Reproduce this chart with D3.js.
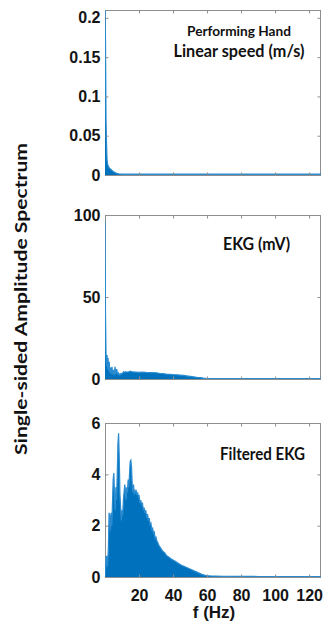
<!DOCTYPE html>
<html>
<head>
<meta charset="utf-8">
<script src="https://cdn.jsdelivr.net/npm/d3@7"></script>
<style>
  body { margin: 0; background: #fff; }
  svg { display: block; }
</style>
</head>
<body>
<svg id="chart" width="323" height="628"></svg>
<script>
// frequency (Hz) / amplitude samples
const handFreq = [0, 0.3, 0.6, 0.9, 1.2, 1.5, 2, 2.5, 3, 4, 5, 6, 7, 8, 10, 20, 40, 60, 80, 100, 127];
const handAmp = [0.21, 0.17, 0.07, 0.04, 0.02, 0.014, 0.011, 0.009, 0.008, 0.006, 0.004, 0.003, 0.002, 0.0015, 0.001, 0.001, 0.001, 0.001, 0.001, 0.001, 0.001];

const ekgFreq = [0, 0.3, 0.6, 0.9, 1.2, 1.5, 1.8, 2.1, 2.5, 2.9, 3.3, 3.7, 4.1, 4.5, 5.0, 5.4, 5.9, 6.4, 6.9, 7.4, 7.9, 8.5, 9, 9.5, 10, 10.5, 11, 11.5, 12, 13, 14, 15, 16, 18, 20, 22, 24, 26, 28, 30, 32, 34, 36, 38, 40, 42, 44, 46, 48, 50, 52, 54, 56, 58, 60, 70, 90, 110, 127];
const ekgAmp = [97, 40, 15, 8, 14.6, 6, 12.8, 5, 10.5, 4, 7, 3, 7.5, 3, 5.5, 2.5, 7.5, 3, 6.1, 3, 3.7, 2.4, 3.2, 2.6, 3.5, 3.8, 4.5, 4.0, 4.4, 4.2, 4.4, 4.8, 4.3, 4.2, 4.1, 4.2, 4.0, 3.9, 3.9, 3.8, 3.5, 3.3, 3.0, 2.9, 2.7, 2.6, 2.4, 2.2, 1.9, 1.6, 1.3, 1.0, 0.8, 0.5, 0.3, 0.3, 0.3, 0.3, 0.3];

const filtFreq = [0, 0.3, 0.6, 1.0, 1.3, 1.6, 2.0, 2.4, 2.8, 3.2, 3.6, 4.0, 4.4, 4.8, 5.2, 5.6, 6.0, 6.4, 6.8, 7.2, 7.6, 8.0, 8.4, 8.8, 9.2, 9.6, 10.0, 10.4, 10.8, 11.2, 11.6, 12.0, 12.4, 12.8, 13.2, 13.6, 14.0, 14.4, 14.8, 15.2, 15.6, 16.0, 16.4, 16.8, 17.2, 17.6, 18.0, 18.4, 18.8, 19.2, 19.6, 20.0, 20.5, 21.0, 21.5, 22.0, 22.5, 23, 23.5, 24, 24.5, 25, 25.5, 26, 26.5, 27, 27.5, 28, 28.5, 29, 29.5, 30, 30.5, 31, 31.5, 32, 33, 34, 35, 36, 37, 38, 39, 40, 41, 42, 43, 44, 45, 46, 47, 48, 49, 50, 51, 52, 53, 54, 55, 56, 57, 58, 59, 60, 62, 65, 70, 80, 90, 100, 110, 120, 127];
const filtAmp = [0.0, 0.3, 0.8, 0.8, 0.4, 0.5, 1.2, 2.5, 2.4, 1.8, 2.5, 2.0, 2.9, 3.8, 4.05, 3.2, 2.6, 3.5, 3.0, 4.0, 5.2, 5.6, 4.6, 3.2, 2.7, 2.2, 2.6, 2.4, 3.0, 3.3, 3.6, 3.4, 3.0, 3.5, 3.3, 3.8, 3.5, 4.0, 4.5, 4.55, 4.3, 3.6, 3.3, 3.6, 3.2, 3.4, 3.3, 3.35, 3.2, 3.3, 3.1, 3.2, 2.9, 3.0, 2.8, 2.9, 2.6, 2.7, 2.5, 2.6, 2.3, 2.45, 2.2, 2.3, 2.05, 2.1, 1.85, 1.9, 1.7, 1.75, 1.5, 1.55, 1.4, 1.35, 1.25, 1.2, 1.1, 1.0, 0.95, 0.85, 0.8, 0.75, 0.7, 0.66, 0.62, 0.58, 0.54, 0.5, 0.46, 0.43, 0.4, 0.37, 0.34, 0.31, 0.28, 0.25, 0.22, 0.19, 0.16, 0.13, 0.1, 0.08, 0.06, 0.05, 0.04, 0.035, 0.03, 0.025, 0.02, 0.02, 0.02, 0.02, 0.02];

const xTicks = [20, 40, 60, 80, 100, 120];
const handTicks = [0, 0.05, 0.1, 0.15, 0.2];
const ekgTicks = [0, 50, 100];
const filtTicks = [0, 2, 4, 6];

const panels = [
  { freq: handFreq, amp: handAmp, yMax: 0.21, ticks: handTicks, top: 10, bottom: 175, xLabels: false,
    titles: [
      { text: 'Performing Hand', x: 239, y: 36, size: 13.5, len: 104 },
      { text: 'Linear speed (m/s)', x: 239, y: 57, size: 16.5, len: 131 }
    ] },
  { freq: ekgFreq, amp: ekgAmp, yMax: 100, ticks: ekgTicks, top: 215, bottom: 379, xLabels: false,
    titles: [{ text: 'EKG (mV)', x: 256.5, y: 250, size: 16.5, len: 67 }] },
  { freq: filtFreq, amp: filtAmp, yMax: 6, ticks: filtTicks, top: 423, bottom: 577, xLabels: true,
    titles: [{ text: 'Filtered EKG', x: 262.5, y: 460, size: 16.5, len: 85 }] }
];

const left = 105;
const right = 321;
const boxColor = '#8e8e8e';
const lineBlue = '#0072BD';

const svg = d3.select('#chart');
svg.append('rect').attr('width', 323).attr('height', 628).attr('fill', '#fff');

const x = d3.scaleLinear().domain([0, 127]).range([left, right]);

panels.forEach((p, i) => {
  const y = d3.scaleLinear().domain([0, p.yMax]).range([p.bottom, p.top]);
  const data = p.freq.map((f, k) => ({ f, v: p.amp[k] }));

  svg.append('clipPath')
    .attr('id', 'clip' + i)
    .append('rect')
    .attr('x', left)
    .attr('y', p.top)
    .attr('width', right - left)
    .attr('height', p.bottom - p.top + 1);

  // box
  svg.append('rect')
    .attr('x', left + 0.5)
    .attr('y', p.top + 0.5)
    .attr('width', right - left - 1)
    .attr('height', p.bottom - p.top)
    .attr('fill', 'none')
    .attr('stroke', boxColor)
    .attr('stroke-width', 1);

  const g = svg.append('g').attr('clip-path', `url(#clip${i})`);

  const area = d3.area()
    .x((d) => x(d.f))
    .y0(y(0))
    .y1((d) => y(d.v));
  const line = d3.line()
    .x((d) => x(d.f))
    .y((d) => y(d.v));

  g.append('path')
    .datum(data)
    .attr('d', area)
    .attr('fill', lineBlue);

  g.append('path')
    .datum(data)
    .attr('d', line)
    .attr('fill', 'none')
    .attr('stroke', '#2a8bd0')
    .attr('stroke-width', 1.2);

  // ticks, pointing inward like matlab
  const axes = [
    { ax: d3.axisBottom(x), t: `translate(0,${p.bottom + 0.5})`, vals: xTicks, labels: p.xLabels, pad: 12 },
    { ax: d3.axisTop(x), t: `translate(0,${p.top + 0.5})`, vals: xTicks, labels: false, pad: 5 },
    { ax: d3.axisLeft(y), t: `translate(${left + 0.5},0)`, vals: p.ticks, labels: true, pad: 5 },
    { ax: d3.axisRight(y), t: `translate(${right - 0.5},0)`, vals: p.ticks, labels: false, pad: 5 }
  ];

  axes.forEach((a) => {
    const ag = svg.append('g')
      .attr('transform', a.t)
      .call(
        a.ax.tickValues(a.vals)
          .tickSize(-3)
          .tickPadding(a.pad)
          .tickFormat(a.labels ? d3.format('') : () => '')
      );
    ag.select('.domain').remove();
    ag.selectAll('line').attr('stroke', boxColor);
    ag.selectAll('text')
      .attr('fill', '#141414')
      .style('font-family', '"Liberation Sans", Arial, sans-serif')
      .style('font-weight', 'bold')
      .style('font-size', '16px');
  });

  p.titles.forEach((t) => {
    svg.append('text')
      .attr('x', t.x)
      .attr('y', t.y)
      .attr('text-anchor', 'middle')
      .attr('textLength', t.len)
      .attr('lengthAdjust', 'spacingAndGlyphs')
      .style('font-family', 'Lato, "Open Sans", sans-serif')
      .style('font-weight', 'bold')
      .style('font-size', t.size + 'px')
      .attr('fill', '#111')
      .text(t.text);
  });
});

// x axis title
svg.append('text')
  .attr('x', 214)
  .attr('y', 618)
  .attr('text-anchor', 'middle')
  .style('font-family', '"Liberation Sans", Arial, sans-serif')
  .style('font-weight', 'bold')
  .style('font-size', '17px')
  .attr('fill', '#141414')
  .text('f (Hz)');

// shared y axis title
svg.append('text')
  .attr('transform', 'translate(27,299) rotate(-90)')
  .attr('text-anchor', 'middle')
  .attr('textLength', 312)
  .attr('lengthAdjust', 'spacingAndGlyphs')
  .style('font-family', 'Lato, "Open Sans", sans-serif')
  .style('font-weight', 'bold')
  .style('font-size', '17.5px')
  .attr('fill', '#111')
  .text('Single-sided Amplitude Spectrum');
</script>
</body>
</html>
